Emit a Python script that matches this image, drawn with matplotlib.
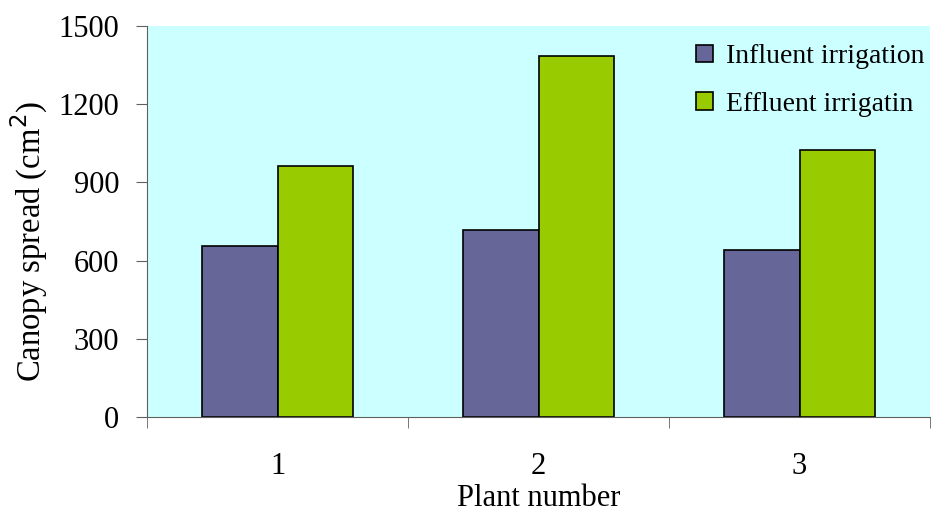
import matplotlib
matplotlib.use('Agg')
import matplotlib.pyplot as plt
import numpy as np

plants = ['1', '2', '3']
influent = [656, 718, 642]
effluent = [964, 1385, 1024]
yticks = [0, 300, 600, 900, 1200, 1500]

plt.rcParams['font.family'] = ['Liberation Serif', 'DejaVu Serif']

fig = plt.figure(figsize=(9.31, 5.14), dpi=100)
ax = fig.add_axes([0.158, 0.1887, 0.841, 0.7607])
ax.set_facecolor('#CCFFFF')

x = np.arange(len(plants))
w = 0.29
ax.bar(x - w / 2, influent, w, color='#666699', edgecolor='black', linewidth=1.2,
       label='Influent irrigation')
ax.bar(x + w / 2, effluent, w, color='#99CC00', edgecolor='black', linewidth=1.2,
       label='Effluent irrigatin')

ax.set_xlim(-0.5, len(plants) - 0.5)
ax.set_ylim(0, 1500)
ax.set_yticks(yticks)
ax.set_yticklabels([str(v) for v in yticks], fontsize=22)
ax.set_xticks(x)
ax.set_xticklabels(plants, fontsize=22)
ax.set_xticks(np.arange(len(plants) + 1) - 0.5, minor=True)
ax.tick_params(axis='x', which='major', length=0, pad=25)
ax.tick_params(axis='x', which='minor', length=8, color='#606060', direction='out')
ax.tick_params(axis='y', length=8, color='#606060', direction='out', pad=12)

for s in ['top', 'right']:
    ax.spines[s].set_visible(False)
for s in ['left', 'bottom']:
    ax.spines[s].set_color('#606060')

ax.set_xlabel('Plant number', fontsize=22, labelpad=2.5)
ax.set_ylabel('Canopy spread (cm$^2$)', fontsize=23.5)
ax.yaxis.set_label_coords(-0.124, 0.45)

ax.legend(loc='upper right', bbox_to_anchor=(1.003, 0.975), frameon=False, fontsize=20,
          handlelength=0.6, handleheight=0.6, handletextpad=0.45,
          labelspacing=0.82, borderaxespad=0.0, borderpad=0.3)

fig.savefig('out.png', dpi=100)
